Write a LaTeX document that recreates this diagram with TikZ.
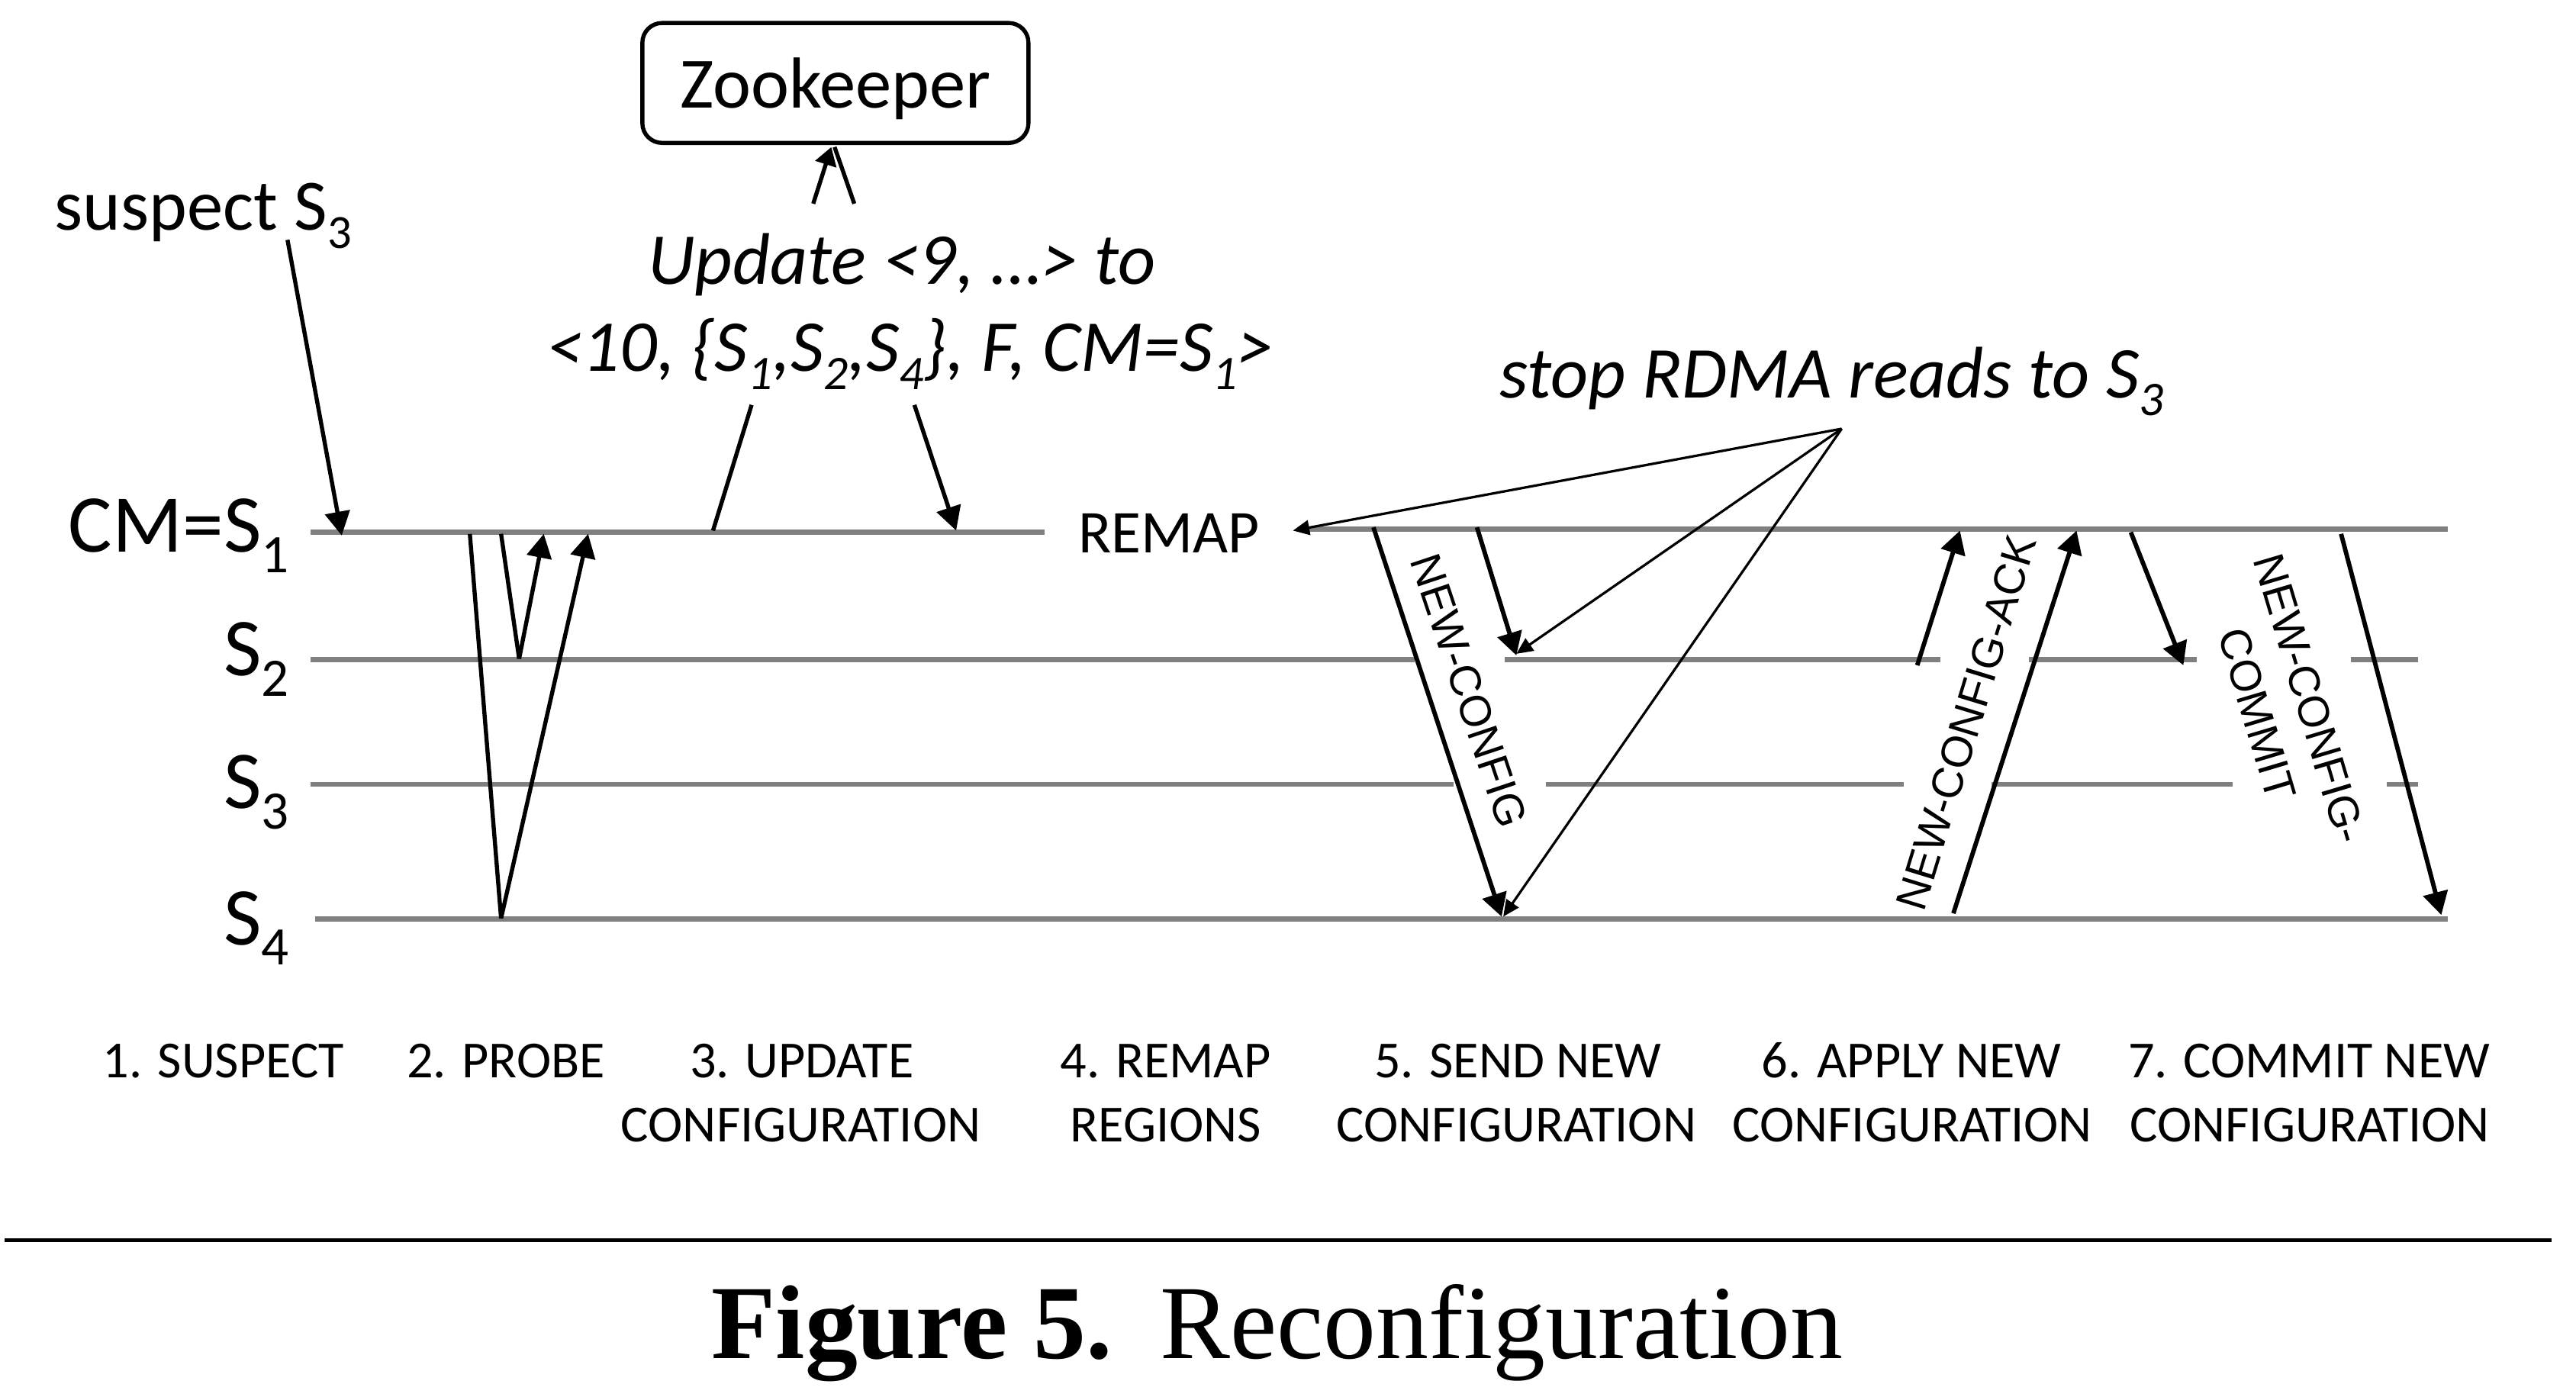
\documentclass[tikz,border=0pt]{standalone}
\usepackage{fontspec}
\usepackage{graphicx}
\setmainfont{Carlito}
\newfontfamily\arialf{Liberation Sans}
\newfontfamily\timesf{Liberation Serif}
\usetikzlibrary{arrows.meta}
\definecolor{lgray}{RGB}{128,128,128}
\newcommand\sbs[1]{\raisebox{-0.25em}{\scalebox{0.66}{#1}}}
\begin{document}
\begin{tikzpicture}[x=1pt,y=-1pt,
  life/.style={draw=lgray,line width=3.1pt},
  msgA/.style={draw=black,line width=2.7pt,-{Triangle[length=14pt,width=15pt]}},
  msgB/.style={draw=black,line width=2.5pt,-{Triangle[length=14.5pt,width=15pt]}},
  plainln/.style={draw=black,line width=2.5pt},
  thinmsg/.style={draw=black,line width=1.5pt,-{Triangle[length=10pt,width=9pt]}},
  big/.style={inner sep=0pt,font=\fontsize{50}{60}\selectfont},
  mid/.style={inner sep=0pt,font=\fontsize{44}{53}\selectfont},
  midit/.style={inner sep=0pt,font=\fontsize{44.5}{53}\selectfont\itshape},
  rot/.style={inner sep=0pt,font=\fontsize{26.5}{33.4}\selectfont\arialf},
  steplbl/.style={inner sep=0pt,anchor=base,font=\fontsize{31.7}{38}\selectfont}
]
\useasboundingbox (0,0) rectangle (1568,850);

% ---------- lifelines ----------
\draw[life] (189,324) -- (636,324);
\draw[life] (790,322) -- (1490,322);
\draw[life] (189,401.5) -- (861,401.5);
\draw[life] (916,401.5) -- (1181,401.5);
\draw[life] (1235,401.5) -- (1337,401.5);
\draw[life] (1431,401.5) -- (1472,401.5);
\draw[life] (189,477.5) -- (885,477.5);
\draw[life] (941,477.5) -- (1159,477.5);
\draw[life] (1212,477.5) -- (1359,477.5);
\draw[life] (1453,477.5) -- (1472,477.5);
\draw[life] (192,559.5) -- (1490,559.5);

% ---------- lifeline labels ----------
\node[big,anchor=base east] (lcm) at (176,336) {CM=S\sbs{1}};
\node[big,anchor=base east] (ls2) at (176,411.5) {S\sbs{2}};
\node[big,anchor=base east] (ls3) at (176,492) {S\sbs{3}};
\node[big,anchor=base east] (ls4) at (176,575) {S\sbs{4}};

% ---------- top texts ----------
\node[mid,draw,line width=2.5pt,rounded corners=12pt,minimum width=235pt,
      minimum height=73pt,text depth=0pt] (zk) at (508.5,50.5) {Zookeeper};
\node[mid,anchor=base west] (susp) at (33,140) {suspect S\sbs{3}};
\node[midit,anchor=base] (upd1) at (549,173) {Update <9, …> to};
\node[midit,anchor=base] (upd2) at (554,226) {<10, \{S\sbs{1},S\sbs{2},S\sbs{4}\}, F, CM=S\sbs{1}>};
\node[midit,anchor=base] (stop) at (1115,242) {stop RDMA reads to S\sbs{3}};
\node[inner sep=0pt,anchor=base,font=\fontsize{37}{44}\selectfont] (remap) at (711.5,336.5) {REMAP};

% ---------- coordinates ----------
\coordinate (susA) at (175,146);   \coordinate (susB) at (208,326);
\coordinate (zkA) at (495,124);    \coordinate (zkB) at (506,89.5);
\coordinate (zkC) at (520,124);    \coordinate (zkD) at (508,89.5);
\coordinate (upA) at (457.5,246.5); \coordinate (upB) at (434,323);
\coordinate (upC) at (556.6,246.5); \coordinate (upD) at (582,323);
\coordinate (prA) at (286,325);    \coordinate (prB) at (305,559);
\coordinate (prC) at (358,325);
\coordinate (prD) at (305,325);    \coordinate (prE) at (316,401);
\coordinate (prF) at (331,325);
\coordinate (apex) at (1121,261);
\coordinate (rmT) at (787,323);
\coordinate (rdA) at (923,398);    \coordinate (rdB) at (915,558);
\coordinate (ncA) at (836,321);    \coordinate (ncB) at (914,558);
\coordinate (nsA) at (899,321);    \coordinate (nsB) at (923,399);
\coordinate (akA) at (1167,405);   \coordinate (akB) at (1193,323);
\coordinate (aaA) at (1189,556);   \coordinate (aaB) at (1264,323);
\coordinate (cmA) at (1297,324);   \coordinate (cmB) at (1329,405);
\coordinate (ccA) at (1425,325);   \coordinate (ccB) at (1486,557);

% ---------- connectors ----------
\draw[msgB] (susA) -- (susB);
\draw[msgB,-{Triangle[length=11pt,width=13pt]}] (zkA) -- (zkB);
\draw[plainln] (zkC) -- (zkD);
\draw[plainln] (upA) -- (upB);
\draw[msgB] (upC) -- (upD);
\draw[plainln] (prA) -- (prB);
\draw[msgB] (prB) -- (prC);
\draw[plainln] (prD) -- (prE);
\draw[msgB] (prE) -- (prF);
\draw[thinmsg] (apex) -- (rmT);
\draw[thinmsg] (apex) -- (rdA);
\draw[thinmsg] (apex) -- (rdB);
\draw[msgA] (ncA) -- (ncB);
\draw[msgA] (nsA) -- (nsB);
\draw[msgA] (akA) -- (akB);
\draw[msgA] (aaA) -- (aaB);
\draw[msgA] (cmA) -- (cmB);
\draw[msgA] (ccA) -- (ccB);

% ---------- rotated message labels ----------
\node[rot,rotate=-71.5] (tnc) at (894,420.5) {NEW-CONFIG};
\node[rot,rotate=73] (tack) at (1196.8,440) {NEW-CONFIG-ACK};
\node[rot,rotate=-73.4,align=center] (tcom) at (1390,430) {NEW-CONFIG-\\COMMIT};

% ---------- step labels ----------
\node[steplbl] (st1) at (136,656) {1. SUSPECT};
\node[steplbl] (st2) at (308,656) {2. PROBE};
\node[steplbl] (st3) at (488,656) {3. UPDATE};
\node[steplbl] (st3b) at (487.5,695) {CONFIGURATION};
\node[steplbl] (st4) at (709.5,656) {4. REMAP};
\node[steplbl] (st4b) at (709.5,695) {REGIONS};
\node[steplbl] (st5) at (924,656) {5. SEND NEW};
\node[steplbl] (st5b) at (923,695) {CONFIGURATION};
\node[steplbl] (st6) at (1163.5,656) {6. APPLY NEW};
\node[steplbl] (st6b) at (1164,695) {CONFIGURATION};
\node[steplbl] (st7) at (1405.5,656) {7. COMMIT NEW};
\node[steplbl] (st7b) at (1406,695) {CONFIGURATION};

% ---------- caption ----------
\draw[line width=2.5pt] (3,755) -- (1553,755);
\node[inner sep=0pt,anchor=base,font=\fontsize{64}{76}\selectfont\timesf] (cap) at (777.5,827)
  {\textbf{Figure 5.}\hspace{0.45em}Reconfiguration};
\end{tikzpicture}
\end{document}
